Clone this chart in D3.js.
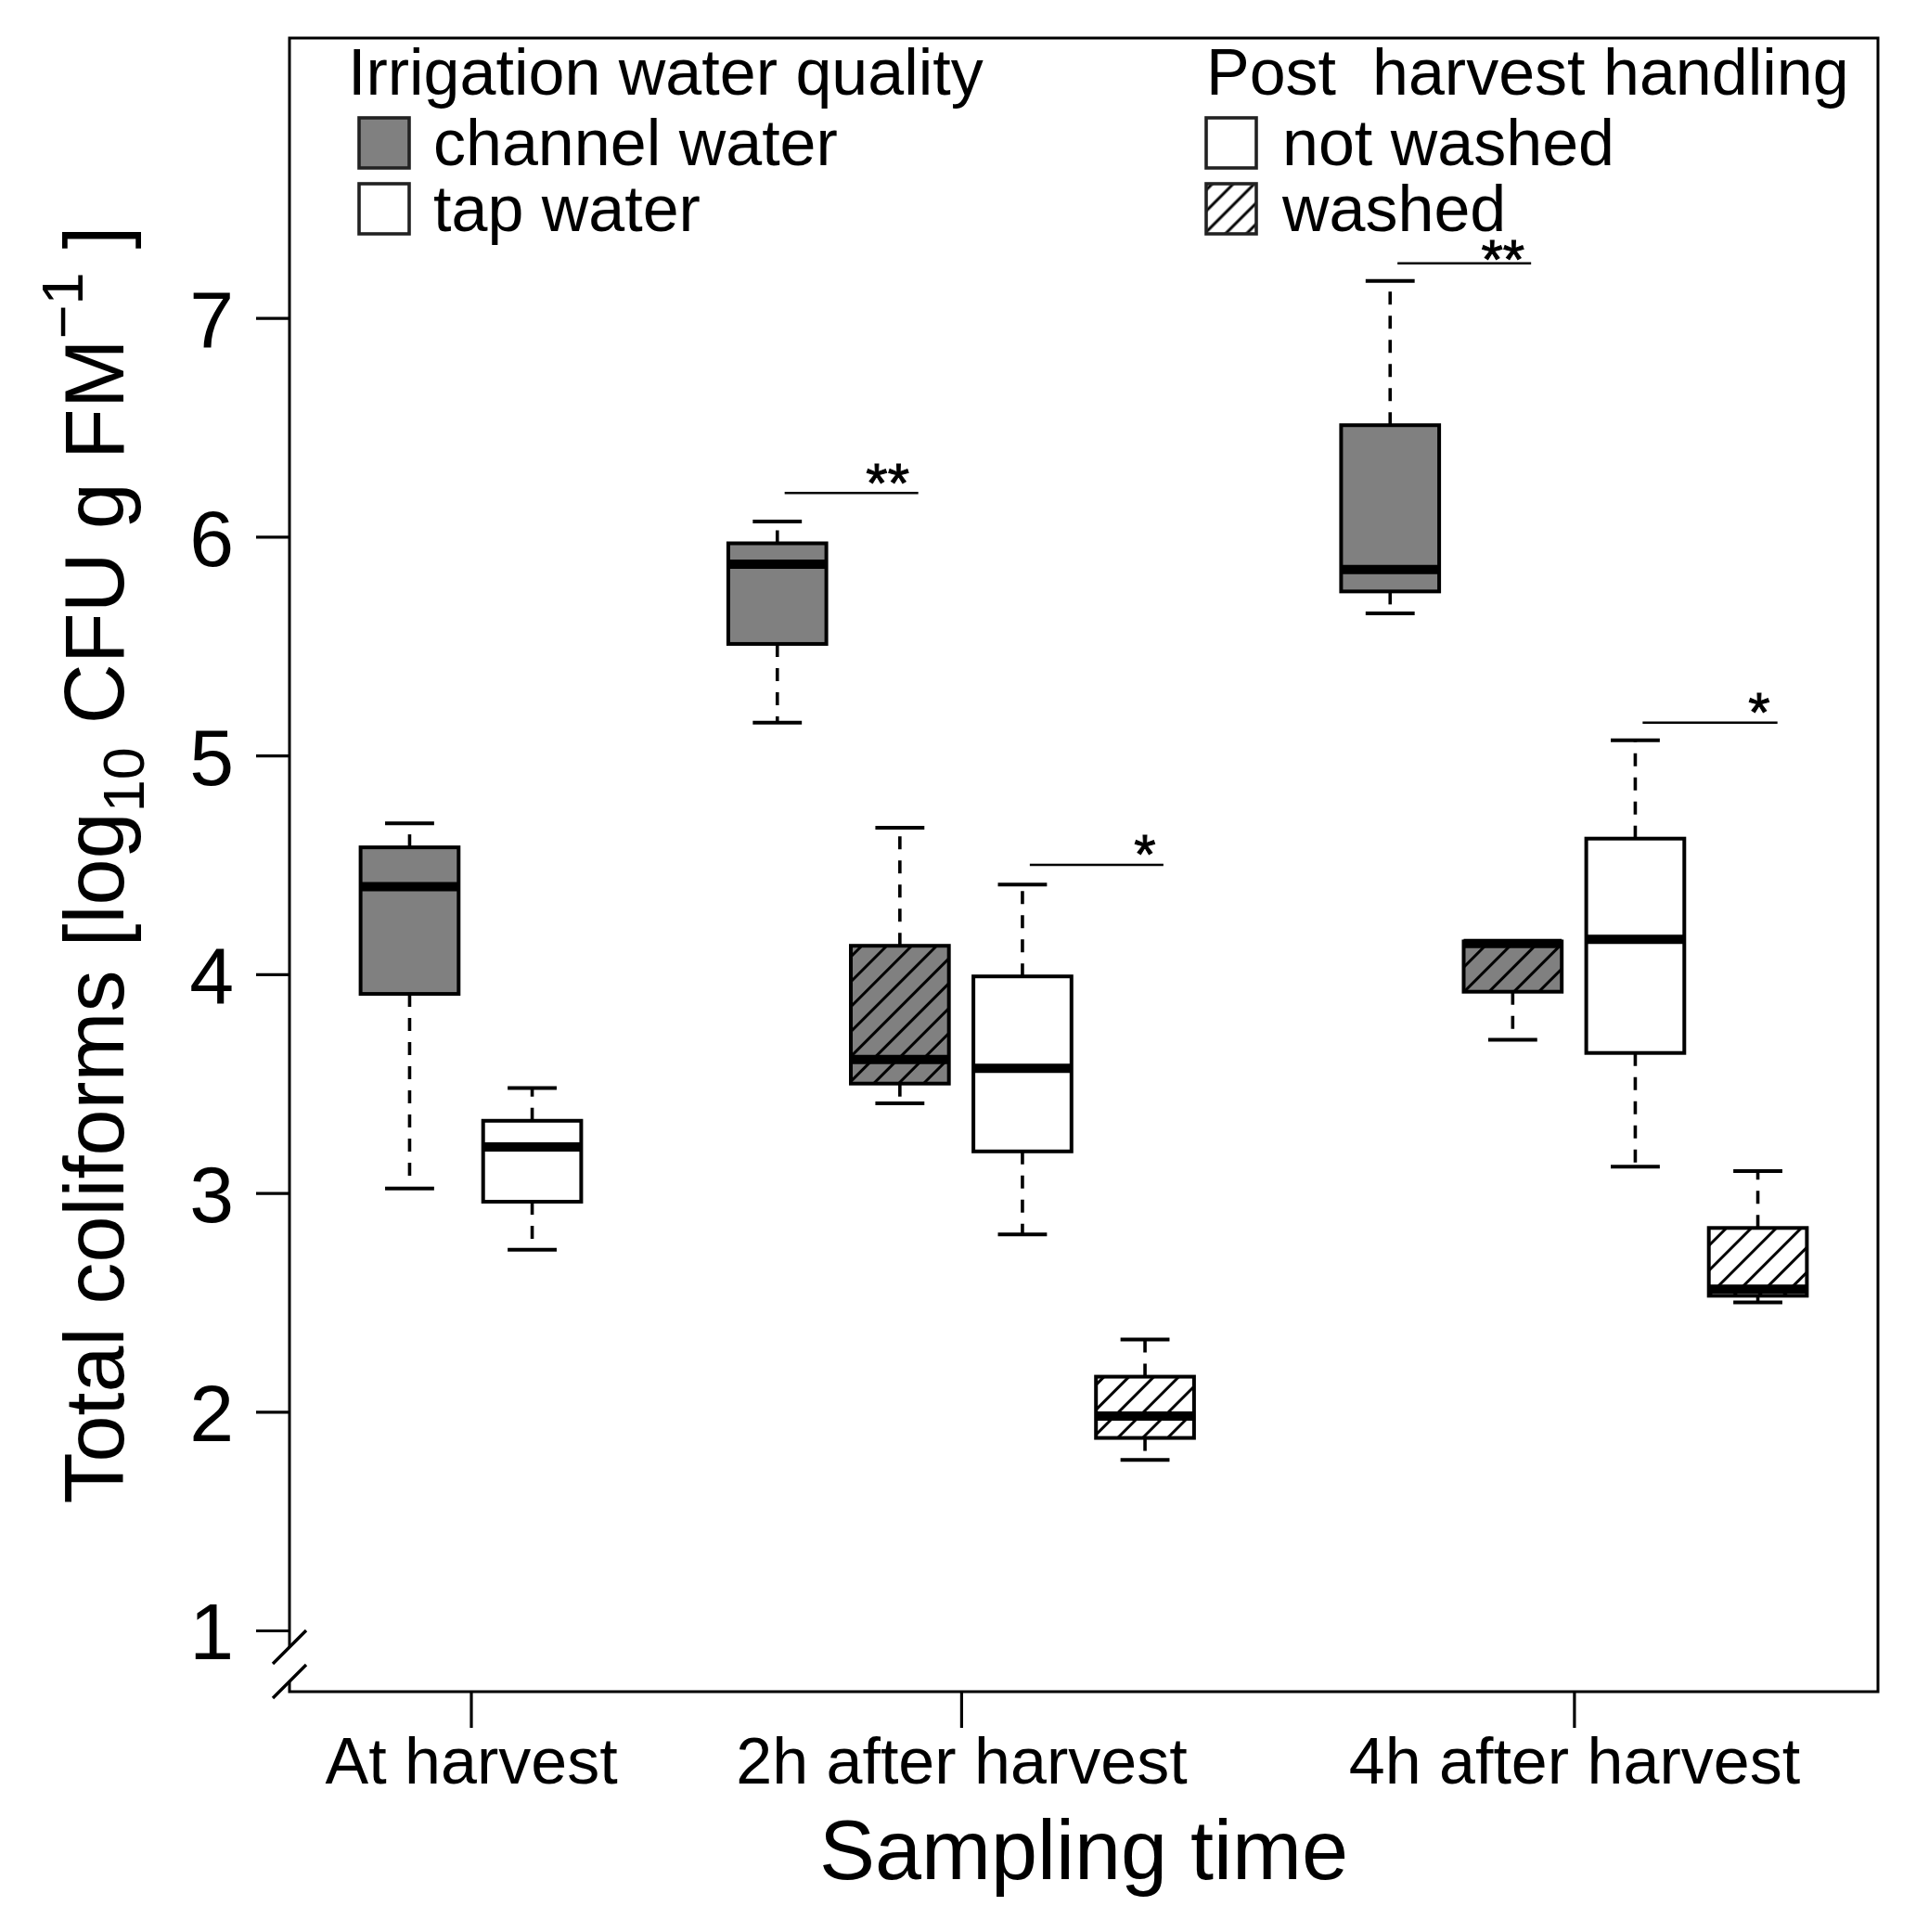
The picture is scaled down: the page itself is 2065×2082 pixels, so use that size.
<!DOCTYPE html>
<html>
<head>
<meta charset="utf-8">
<script src="https://cdn.jsdelivr.net/npm/d3@7"></script>
<style>
  html, body { margin: 0; padding: 0; background: #fff; }
  svg { display: block; }
  text { font-family: "Liberation Sans", Arial, Helvetica, sans-serif; fill: #000; }
</style>
</head>
<body>
<script>
// ---------------- data ----------------
const timeLabels = ["At harvest", "2h after harvest", "4h after harvest"];
const timeTickPos = [1.5, 5.5, 10.5];
const yTicks = [1, 2, 3, 4, 5, 6, 7];

const boxPos    = [1, 2, 4, 5, 6, 7, 9, 10, 11, 12];
const boxWater  = ["channel", "tap", "channel", "channel", "tap", "tap", "channel", "channel", "tap", "tap"];
const boxWashed = [false, false, false, true, false, true, false, true, false, true];
const whiskLow  = [3.02, 2.74, 5.15, 3.41, 2.81, 1.78, 5.65, 3.70, 3.12, 2.50];
const q1        = [3.91, 2.96, 5.51, 3.50, 3.19, 1.88, 5.75, 3.92, 3.64, 2.53];
const median    = [4.40, 3.21, 5.875, 3.61, 3.57, 1.98, 5.85, 4.14, 4.16, 2.56];
const q3        = [4.58, 3.33, 5.97, 4.13, 3.99, 2.16, 6.51, 4.15, 4.62, 2.84];
const whiskHigh = [4.69, 3.48, 6.07, 4.67, 4.41, 2.33, 7.17, 4.15, 5.07, 3.10];

const sigX1    = [4.06, 6.06, 9.06, 11.06];
const sigX2    = [5.15, 7.15, 10.15, 12.16];
const sigY     = [6.20, 4.50, 7.25, 5.15];
const sigLabel = ["**", "*", "**", "*"];
const sigLabX  = [4.90, 7.00, 9.92, 12.01];
const sigLabY  = [6.16, 4.46, 7.18, 5.11];

const legend1Title = "Irrigation water quality";
const legend1Labels = ["channel water", "tap water"];
const legend2Title = "Post  harvest handling";
const legend2Labels = ["not washed", "washed"];

const xTitle = "Sampling time";

// ---------------- layout ----------------
const W = 2065, H = 2082;
const pL = 312, pR = 2024, pT = 41, pB = 1823;
const GRAY = "#808080";

const x = d3.scaleLinear().domain([0.02, 12.98]).range([pL, pR]);
const y = d3.scaleLinear().domain([0.72, 8.28]).range([pB, pT]);

const svg = d3.select("body").append("svg")
  .attr("width", W).attr("height", H)
  .attr("viewBox", `0 0 ${W} ${H}`);

svg.append("rect").attr("width", W).attr("height", H).attr("fill", "#fff");

const defs = svg.append("defs");
function hatch(id, spacing, sw) {
  const p = defs.append("pattern")
    .attr("id", id)
    .attr("patternUnits", "userSpaceOnUse")
    .attr("width", spacing).attr("height", spacing)
    .attr("patternTransform", "rotate(45)");
  p.append("line")
    .attr("x1", spacing / 2).attr("y1", 0)
    .attr("x2", spacing / 2).attr("y2", spacing)
    .attr("stroke", "#000").attr("stroke-width", sw);
}
hatch("hatchBox", 19, 3);
hatch("hatchLeg", 16, 3);

// ---------------- frame with axis break ----------------
const frame = svg.append("g").attr("stroke", "#000").attr("stroke-width", 3).attr("fill", "none");
const brk1 = 1775, brk2 = 1812;
frame.append("path").attr("d",
  `M${pL},${brk1} L${pL},${pT} L${pR},${pT} L${pR},${pB} L${pL},${pB} L${pL},${brk2}`);
[brk1, brk2].forEach(c => {
  frame.append("line")
    .attr("x1", pL - 18).attr("y1", c + 18)
    .attr("x2", pL + 18).attr("y2", c - 18)
    .attr("stroke-width", 3.4);
});

// ---------------- axes ----------------
const yAxis = svg.append("g")
  .attr("transform", `translate(${pL},0)`)
  .call(d3.axisLeft(y).tickValues(yTicks).tickSize(36).tickPadding(24).tickFormat(d3.format("d")));
yAxis.select(".domain").remove();
yAxis.selectAll(".tick line").attr("stroke", "#000").attr("stroke-width", 3.2);
yAxis.selectAll(".tick text")
  .attr("font-size", 86)
  .attr("font-family", "Liberation Sans, Arial, sans-serif")
  .attr("fill", "#000")
  .attr("dy", "0.36em");

const xAxis = svg.append("g")
  .attr("transform", `translate(0,${pB})`)
  .call(d3.axisBottom(x).tickValues(timeTickPos).tickSize(39)
    .tickFormat((d, i) => timeLabels[i]));
xAxis.select(".domain").remove();
xAxis.selectAll(".tick line").attr("stroke", "#000").attr("stroke-width", 3.2);
xAxis.selectAll(".tick text")
  .attr("font-size", 70)
  .attr("font-family", "Liberation Sans, Arial, sans-serif")
  .attr("fill", "#000")
  .attr("y", 99).attr("dy", null);

// ---------------- boxes ----------------
const bw = 0.4, sw = 0.2;
const boxes = boxPos.map((p, i) => ({
  p, water: boxWater[i], washed: boxWashed[i],
  lo: whiskLow[i], q1: q1[i], med: median[i], q3: q3[i], hi: whiskHigh[i]
}));

const bg = svg.append("g");
boxes.forEach(b => {
  const g = bg.append("g");
  g.append("line").attr("x1", x(b.p)).attr("x2", x(b.p))
    .attr("y1", y(b.q3)).attr("y2", y(b.hi))
    .attr("stroke", "#000").attr("stroke-width", 3.6).attr("stroke-dasharray", "14,12");
  g.append("line").attr("x1", x(b.p)).attr("x2", x(b.p))
    .attr("y1", y(b.q1)).attr("y2", y(b.lo))
    .attr("stroke", "#000").attr("stroke-width", 3.6).attr("stroke-dasharray", "14,12");
  [b.hi, b.lo].forEach(v => {
    g.append("line").attr("x1", x(b.p - sw)).attr("x2", x(b.p + sw))
      .attr("y1", y(v)).attr("y2", y(v))
      .attr("stroke", "#000").attr("stroke-width", 4);
  });
  const bx = x(b.p - bw), bwid = x(b.p + bw) - x(b.p - bw);
  g.append("rect").attr("x", bx).attr("y", y(b.q3))
    .attr("width", bwid).attr("height", y(b.q1) - y(b.q3))
    .attr("fill", b.water === "channel" ? GRAY : "#fff");
  if (b.washed) {
    g.append("rect").attr("x", bx).attr("y", y(b.q3))
      .attr("width", bwid).attr("height", y(b.q1) - y(b.q3))
      .attr("fill", "url(#hatchBox)");
  }
  g.append("rect").attr("x", bx).attr("y", y(b.q3))
    .attr("width", bwid).attr("height", y(b.q1) - y(b.q3))
    .attr("fill", "none").attr("stroke", "#000").attr("stroke-width", 4);
  g.append("line").attr("x1", bx).attr("x2", bx + bwid)
    .attr("y1", y(b.med)).attr("y2", y(b.med))
    .attr("stroke", "#000").attr("stroke-width", 10);
});

// ---------------- significance ----------------
const sg = svg.append("g");
sigX1.forEach((x1, i) => {
  sg.append("line").attr("x1", x(x1)).attr("x2", x(sigX2[i]))
    .attr("y1", y(sigY[i])).attr("y2", y(sigY[i]))
    .attr("stroke", "#000").attr("stroke-width", 2.6);
  sg.append("text").attr("x", x(sigLabX[i])).attr("y", y(sigLabY[i]))
    .attr("text-anchor", "middle").attr("font-size", 60)
    .attr("stroke", "#000").attr("stroke-width", 1)
    .text(sigLabel[i]);
});

// ---------------- legends ----------------
function legend(titleX, boxX, textX, title, labels, fills) {
  const g = svg.append("g");
  g.append("text").attr("x", titleX).attr("y", 102).attr("font-size", 70)
    .attr("xml:space", "preserve").style("white-space", "pre").text(title);
  labels.forEach((lab, i) => {
    const yy = 127 + i * 71;
    if (fills[i] === "hatch") {
      g.append("rect").attr("x", boxX).attr("y", yy).attr("width", 54).attr("height", 54).attr("fill", "#fff");
      g.append("rect").attr("x", boxX).attr("y", yy).attr("width", 54).attr("height", 54).attr("fill", "url(#hatchLeg)");
    } else {
      g.append("rect").attr("x", boxX).attr("y", yy).attr("width", 54).attr("height", 54).attr("fill", fills[i]);
    }
    g.append("rect").attr("x", boxX).attr("y", yy).attr("width", 54).attr("height", 54)
      .attr("fill", "none").attr("stroke", "#222").attr("stroke-width", 3.6);
    g.append("text").attr("x", textX).attr("y", yy + 51).attr("font-size", 70).text(lab);
  });
}
legend(375, 387, 467, legend1Title, legend1Labels, [GRAY, "#fff"]);
legend(1300, 1300, 1382, legend2Title, legend2Labels, ["#fff", "hatch"]);

// ---------------- axis titles ----------------
svg.append("text").attr("x", (pL + pR) / 2).attr("y", 2025)
  .attr("text-anchor", "middle").attr("font-size", 90).text(xTitle);

const yl = svg.append("text")
  .attr("transform", `translate(133,${(pT + pB) / 2}) rotate(-90)`)
  .attr("text-anchor", "middle").attr("font-size", 90);
yl.append("tspan").text("Total coliforms [log");
yl.append("tspan").attr("font-size", 63).attr("dy", 22).text("10");
yl.append("tspan").attr("dy", -22).text(" CFU g FM");
yl.append("tspan").attr("font-size", 63).attr("dy", -44).text("\u22121");
yl.append("tspan").attr("dy", 44).text(" ]");
</script>
</body>
</html>
